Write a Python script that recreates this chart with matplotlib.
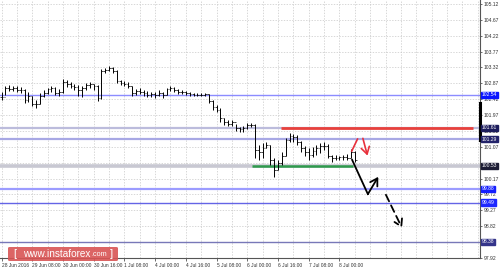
import matplotlib.pyplot as plt
import matplotlib.patches as mpatches

# H2 bars, 28 Jun - 8 Jul (prices)
highs = [102.62, 102.79, 102.82, 102.79, 102.79, 102.77, 102.71, 102.62, 102.51, 102.40,
         102.60, 102.68, 102.74, 102.79, 102.77, 102.71, 102.99, 102.96, 102.91, 102.85,
         102.82, 102.79, 102.88, 102.91, 102.85, 102.82, 103.28, 103.30, 103.36, 103.33,
         103.25, 102.96, 102.94, 102.91, 102.79, 102.71, 102.74, 102.68, 102.65, 102.62,
         102.62, 102.68, 102.62, 102.74, 102.79, 102.77, 102.71, 102.68, 102.65, 102.62,
         102.60, 102.60, 102.60, 102.60, 102.57, 102.40, 102.26, 102.17, 101.89, 101.83,
         101.83, 101.72, 101.63, 101.66, 101.75, 101.75, 101.72, 101.12, 101.18, 101.21,
         101.12, 100.75, 100.70, 100.92, 101.32, 101.46, 101.43, 101.41, 101.24, 101.09,
         101.04, 101.07, 101.12, 101.18, 101.21, 101.15, 100.84, 100.84, 100.81, 100.84,
         100.87, 101.01, 100.95]
lows = [102.40, 102.54, 102.65, 102.65, 102.62, 102.60, 102.31, 102.34, 102.23, 102.17,
        102.28, 102.48, 102.57, 102.62, 102.54, 102.51, 102.60, 102.77, 102.74, 102.68,
        102.51, 102.48, 102.68, 102.74, 102.68, 102.37, 102.43, 103.16, 103.22, 103.16,
        102.88, 102.82, 102.79, 102.74, 102.51, 102.54, 102.57, 102.51, 102.48, 102.48,
        102.45, 102.51, 102.45, 102.54, 102.65, 102.62, 102.57, 102.57, 102.54, 102.51,
        102.51, 102.51, 102.51, 102.51, 102.31, 102.11, 102.06, 101.77, 101.69, 101.66,
        101.66, 101.52, 101.49, 101.49, 101.58, 101.63, 100.75, 100.70, 100.75, 101.04,
        100.56, 100.22, 100.41, 100.56, 100.81, 101.21, 101.21, 101.12, 100.92, 100.81,
        100.70, 100.78, 100.84, 100.90, 100.98, 100.75, 100.64, 100.70, 100.70, 100.70,
        100.70, 100.75, 100.64]
closes = [102.48, 102.74, 102.71, 102.74, 102.68, 102.68, 102.40, 102.51, 102.28, 102.28,
          102.51, 102.60, 102.71, 102.74, 102.60, 102.62, 102.91, 102.85, 102.79, 102.77,
          102.68, 102.74, 102.82, 102.85, 102.79, 102.45, 103.22, 103.25, 103.30, 103.22,
          102.94, 102.88, 102.85, 102.79, 102.60, 102.65, 102.62, 102.60, 102.54, 102.57,
          102.54, 102.60, 102.54, 102.71, 102.74, 102.68, 102.62, 102.62, 102.60, 102.57,
          102.54, 102.54, 102.54, 102.57, 102.37, 102.20, 102.11, 101.89, 101.77, 101.72,
          101.77, 101.60, 101.58, 101.60, 101.69, 101.69, 100.98, 100.92, 101.04, 101.12,
          100.70, 100.41, 100.61, 100.81, 101.26, 101.38, 101.35, 101.21, 101.04, 100.92,
          100.84, 100.95, 101.04, 101.09, 101.09, 100.81, 100.75, 100.75, 100.78, 100.78,
          100.75, 100.92, 100.70]

time_labels = ["28 Jun 2016", "29 Jun 08:00", "30 Jun 00:00", "30 Jun 16:00", "1 Jul 08:00",
               "4 Jul 00:00", "4 Jul 16:00", "5 Jul 08:00", "6 Jul 00:00", "6 Jul 16:00",
               "7 Jul 08:00", "8 Jul 00:00"]
price_grid = [105.12, 104.67, 104.22, 103.77, 103.32, 102.87, 102.42, 101.97, 101.52,
              101.07, 100.62, 100.17, 99.72, 99.27, 98.82, 98.37, 97.92]
# labels hidden under the level boxes are left out
price_labels = [105.12, 104.67, 104.22, 103.77, 103.32, 102.87, 102.42, 101.97, 101.52,
                101.07, 100.17, 99.72, 99.27, 98.82, 97.92]

# horizontal levels: value, line colour, line width, box colour
levels = [102.54, 101.61, 101.29, 100.53, 99.88, 99.49, 98.38]
level_colors = ["#8c8cff", "#bcbcdc", "#a8a8e4", "#c8c8d2", "#9c9cff", "#6464e6", "#7878b8"]
level_widths = [1.0, 1.6, 1.6, 2.6, 1.6, 1.0, 1.0]
box_colors = ["#0a14ff", "#1c1c5c", "#23236a", "#1c1c34", "#141eff", "#1e28ff", "#34348a"]

resistance = (101.61, 72.8, 122.8)   # value, from bar, to bar
support = (100.53, 65.2, 91.5)
scale_bar = (101.26, 102.31)

# forecast arrows (bar, price)
red_up = [(91.2, 100.95), (92.7, 101.29)]
red_down = [(94.1, 101.31), (95.3, 100.82)]
black_path = [(91.3, 100.70), (95.4, 99.73), (98.1, 100.22)]
black_dash = [(100.1, 99.71), (104.3, 98.77)]

TICK_FONT = ["Liberation Sans", "DejaVu Sans"]


def draw_chart(fig):
    ax = fig.add_axes([0, 13 / 271, 480 / 500, 258 / 271])
    ax.set_xlim(-0.4, 124.6)
    ax.set_ylim(97.92, 105.23)

    # dotted grid
    for k in range(0, 32):
        ax.axvline(k * 4, color="#c8c8c8", lw=0.5, ls=(0, (2, 2)), zorder=0)
    for v in price_grid:
        ax.axhline(v, color="#c8c8c8", lw=0.5, ls=(0, (2, 2)), zorder=0)

    # level lines
    for v, c, w in zip(levels, level_colors, level_widths):
        ax.axhline(v, color=c, lw=w, zorder=1)
    ax.hlines(resistance[0], resistance[1], resistance[2], color="#e8413c", lw=2, zorder=2)
    ax.hlines(support[0], support[1], support[2], color="#2e9a4c", lw=1.8, zorder=2)

    # OHLC bars
    opens = [closes[0]] + closes[:-1]
    for i in range(len(closes)):
        ax.vlines(i, lows[i], highs[i], color="black", lw=0.7, zorder=3)
        ax.hlines(opens[i], i - 0.45, i, color="black", lw=0.5, zorder=3)
        ax.hlines(closes[i], i, i + 0.45, color="black", lw=0.5, zorder=3)

    # forecast arrows
    head = "->,head_length=0.5,head_width=0.3"
    ax.plot(*zip(*red_up), color="#e8313c", lw=1.2, zorder=4)
    ax.annotate("", xy=red_down[1], xytext=red_down[0],
                arrowprops=dict(arrowstyle=head, color="#e8313c", lw=1.2, shrinkA=0, shrinkB=0))
    ax.plot([p[0] for p in black_path[:2]], [p[1] for p in black_path[:2]], color="black", lw=1.3)
    ax.annotate("", xy=black_path[2], xytext=black_path[1],
                arrowprops=dict(arrowstyle=head, color="black", lw=1.3, shrinkA=0, shrinkB=0))
    ax.annotate("", xy=black_dash[1], xytext=black_dash[0],
                arrowprops=dict(arrowstyle=head, color="black", lw=1.3, ls=(0, (4, 2.5)),
                                shrinkA=0, shrinkB=0))

    # axes look
    for s in ["left", "top"]:
        ax.spines[s].set_visible(False)
    for s in ["right", "bottom"]:
        ax.spines[s].set_color("#555555")
        ax.spines[s].set_linewidth(0.8)
    ax.yaxis.tick_right()
    ax.set_yticks(price_labels)
    ax.set_yticklabels([f"{v:.2f}" for v in price_labels], family=TICK_FONT)
    ax.tick_params(axis="y", length=1.5, width=0.5, pad=1.2, labelsize=3.6, colors="#333333")
    ax.set_xticks([8 * k for k in range(len(time_labels))])
    ax.set_xticklabels(time_labels, ha="left", family=TICK_FONT)
    ax.tick_params(axis="x", length=2, width=0.5, pad=1.5, labelsize=3.5, colors="#333333")

    ax.plot([1, 1], scale_bar, transform=ax.get_yaxis_transform(), color="black",
            lw=2.2, clip_on=False, zorder=5)

    # level price boxes
    for v, c in zip(levels, box_colors):
        ax.annotate(f"{v:.2f}", xy=(1, v), xycoords=ax.get_yaxis_transform(),
                    xytext=(1.4, 0), textcoords="offset points", ha="left", va="center",
                    fontsize=3.6, family=TICK_FONT, color="white", annotation_clip=False,
                    zorder=6, bbox=dict(boxstyle="square,pad=0.15", fc=c, ec=c))
    return ax


def watermark(fig):
    fig.patches.append(mpatches.FancyBboxPatch((8 / 500, 10 / 271), 110 / 500, 14 / 271,
                                               boxstyle="round,pad=0,rounding_size=0.004",
                                               transform=fig.transFigure, fc="#d95454",
                                               ec="none", alpha=0.9, zorder=10))
    kw = dict(color="white", va="center", family="Liberation Sans", zorder=11)
    fig.text(13 / 500, 17 / 271, "[", fontsize=8, **kw)
    fig.text(23 / 500, 17 / 271, "www.instaforex", fontsize=7.2, **kw)
    fig.text(91 / 500, 16.4 / 271, ".com", fontsize=5.2, **kw)
    fig.text(110 / 500, 17 / 271, "]", fontsize=8, **kw)


if __name__ == "__main__":
    fig = plt.figure(figsize=(5, 2.71), dpi=100)
    fig.patch.set_facecolor("white")
    draw_chart(fig)
    watermark(fig)
    fig.savefig("out.png", dpi=100)
